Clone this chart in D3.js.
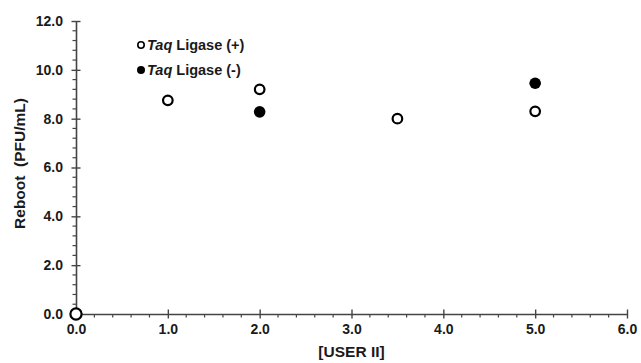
<!DOCTYPE html>
<html>
<head>
<meta charset="utf-8">
<script src="https://cdn.jsdelivr.net/npm/d3@7"></script>
<style>
  body { margin: 0; background: #fff; }
  text { font-family: "Liberation Sans", Arial, sans-serif; font-weight: bold; fill: #1a1a1a; }
</style>
</head>
<body>
<svg id="chart" width="641" height="363"></svg>
<script>
// data
const ligasePlusX = [0, 1, 2, 3.5, 5];
const ligasePlusY = [0, 8.75, 9.2, 8.0, 8.3];
const ligaseMinusX = [2, 5];
const ligaseMinusY = [8.28, 9.45];
const xTicks = [0, 1, 2, 3, 4, 5, 6];
const yTicks = [0, 2, 4, 6, 8, 10, 12];

const margin = {top: 21, right: 14, bottom: 49, left: 76};
const width = 641 - margin.left - margin.right;
const height = 363 - margin.top - margin.bottom;

const svg = d3.select("#chart")
  .append("g")
  .attr("transform", "translate(" + margin.left + "," + margin.top + ")");

const x = d3.scaleLinear().domain([0, 6]).range([0, width]);
const y = d3.scaleLinear().domain([0, 12]).range([height, 0]);

const axisColor = "#444";

// minor ticks
const xMinor = d3.range(0, 6.001, 0.2).filter(v => Math.abs(v - Math.round(v)) > 0.01);
const yMinor = d3.range(0, 12.001, 0.4).filter(v => Math.abs(v / 2 - Math.round(v / 2)) > 0.01);

svg.append("g")
  .selectAll("line")
  .data(xMinor)
  .enter().append("line")
  .attr("x1", d => x(d)).attr("x2", d => x(d))
  .attr("y1", height).attr("y2", height + 3.5)
  .attr("stroke", axisColor).attr("stroke-width", 1.2);

svg.append("g")
  .selectAll("line")
  .data(yMinor)
  .enter().append("line")
  .attr("x1", -3.5).attr("x2", 0)
  .attr("y1", d => y(d)).attr("y2", d => y(d))
  .attr("stroke", axisColor).attr("stroke-width", 1.2);

// x axis
const xAxis = d3.axisBottom(x).tickValues(xTicks).tickSize(0).tickFormat(d3.format(".1f"));
const xg = svg.append("g")
  .attr("transform", "translate(0," + height + ")")
  .call(xAxis);
xg.select(".domain").attr("stroke", axisColor).attr("stroke-width", 1.6);
xg.selectAll(".tick text").attr("dy", "1.2em").attr("font-size", 14).style("font-weight", "bold");
xg.selectAll(".tick").append("line")
  .attr("y1", -4.5).attr("y2", 4.5)
  .attr("stroke", axisColor).attr("stroke-width", 1.4);

// y axis
const yAxis = d3.axisLeft(y).tickValues(yTicks).tickSize(0).tickFormat(d3.format(".1f"));
const yg = svg.append("g").call(yAxis);
yg.select(".domain").attr("stroke", axisColor).attr("stroke-width", 1.6);
yg.selectAll(".tick text").attr("x", -13).attr("font-size", 14).style("font-weight", "bold");
yg.selectAll(".tick").append("line")
  .attr("x1", -4.5).attr("x2", 4.5)
  .attr("stroke", axisColor).attr("stroke-width", 1.4);

// axis titles
svg.append("text")
  .attr("x", x(3))
  .attr("y", height + 43)
  .attr("text-anchor", "middle")
  .attr("font-size", 15.5)
  .text("[USER II]");

svg.append("text")
  .attr("transform", "translate(" + (-51) + "," + (height / 2 - 4) + ") rotate(-90)")
  .attr("text-anchor", "middle")
  .attr("font-size", 15.5)
  .attr("xml:space", "preserve")
  .text("Reboot  (PFU/mL)");

// points
const plusData = ligasePlusX.map((v, i) => ({x: v, y: ligasePlusY[i]}));
const minusData = ligaseMinusX.map((v, i) => ({x: v, y: ligaseMinusY[i]}));

svg.append("g")
  .selectAll("circle")
  .data(minusData)
  .enter().append("circle")
  .attr("cx", d => x(d.x))
  .attr("cy", d => y(d.y))
  .attr("r", 5.8)
  .attr("fill", "#000");

svg.append("g")
  .selectAll("circle")
  .data(plusData)
  .enter().append("circle")
  .attr("cx", d => x(d.x))
  .attr("cy", d => y(d.y))
  .attr("r", (d, i) => i === 0 ? 5.6 : 4.8)
  .attr("fill", "#fff")
  .attr("stroke", "#000")
  .attr("stroke-width", 2.2);

// legend
const legend = svg.append("g").attr("transform", "translate(" + 65 + "," + 24 + ")");
const legendItems = [
  {label: " Ligase (+)", filled: false},
  {label: " Ligase (-)", filled: true}
];
legendItems.forEach((item, i) => {
  const g = legend.append("g").attr("transform", "translate(0," + (i * 25) + ")");
  g.append("circle")
    .attr("cx", 0).attr("cy", 0)
    .attr("r", item.filled ? 4 : 3.2)
    .attr("fill", item.filled ? "#000" : "#fff")
    .attr("stroke", "#000")
    .attr("stroke-width", item.filled ? 0 : 1.6);
  const t = g.append("text")
    .attr("x", 6).attr("y", 5)
    .attr("font-size", 14.5)
    .attr("xml:space", "preserve");
  t.append("tspan").style("font-style", "italic").text("Taq");
  t.append("tspan").text(item.label);
});
</script>
</body>
</html>
